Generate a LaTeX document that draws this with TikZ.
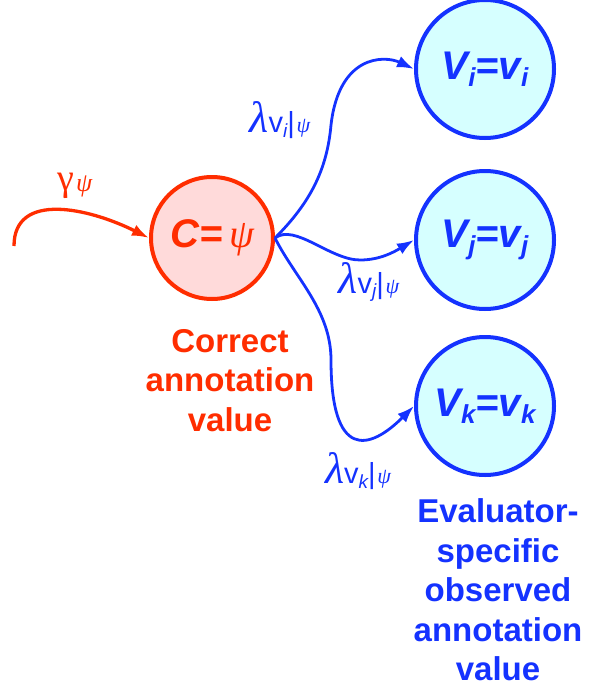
\documentclass[tikz,border=0pt]{standalone}
\usepackage{fontspec}
\setmainfont{Liberation Sans}
\newfontfamily\grk{Liberation Serif}
\usepackage{tikz}
\usetikzlibrary{arrows.meta, positioning}

\definecolor{corrred}{RGB}{255,45,0}
\definecolor{corrfill}{RGB}{255,218,218}
\definecolor{evalblue}{RGB}{20,50,255}
\definecolor{evalfill}{RGB}{214,255,255}

\newcommand{\lamlab}[1]{{\fontsize{44}{44}\selectfont\grk\itshape λ}{\fontsize{29}{29}\selectfont v\raisebox{-0.3ex}{\fontsize{19}{19}\selectfont\itshape #1}|}\,{\fontsize{22}{22}\selectfont\grk\itshape ψ}}
\newcommand{\sub}[1]{\raisebox{-0.35ex}{\fontsize{26}{26}\selectfont #1}}

\begin{document}
\begin{tikzpicture}[
  x=1pt, y=1pt,
  truth/.style={circle, draw=corrred, fill=corrfill, line width=4pt, minimum size=122pt, inner sep=0pt,
    text=corrred, font=\fontsize{40}{40}\selectfont\bfseries\itshape},
  obs/.style={circle, draw=evalblue, fill=evalfill, line width=4pt, minimum size=138pt, inner sep=0pt,
    text=evalblue, font=\fontsize{40}{40}\selectfont\bfseries\itshape},
  arrow/.style={-{Latex[length=17pt, width=12pt]}, line width=2.8pt, evalblue},
  inarrow/.style={-{Latex[length=17pt, width=12pt]}, line width=3.3pt, corrred},
  note/.style={align=center, inner sep=0pt, font=\fontsize{33}{39.5}\selectfont\bfseries}
]
\useasboundingbox (0,0) rectangle (591,-698);

\node[truth] (c) at (212,-238) {C=\,{\grk\mdseries ψ}};
\node[obs] (vi) at (485,-69) {V\sub{i}=v\sub{i}};
\node[obs] (vj) at (485,-240) {V\sub{j}=v\sub{j}};
\node[obs] (vk) at (485,-406) {V\sub{k}=v\sub{k}};

\node[note, text=corrred] (clab) at (230,-380.5) {Correct\\annotation\\value};
\node[note, text=evalblue] (vlab) at (498,-590) {Evaluator-\\specific\\observed\\annotation\\value};

\coordinate (src) at (14,-246);
\node[text=corrred, inner sep=0pt] (gam) at (75,-186)
  {{\fontsize{38}{38}\selectfont\grk γ}\,\raisebox{-0.25ex}{\fontsize{26}{26}\selectfont\grk\itshape ψ}};
\node[text=evalblue, inner sep=0pt] (li) at (280,-120) {\lamlab{i}};
\node[text=evalblue, inner sep=0pt] (lj) at (369,-282) {\lamlab{j}};
\node[text=evalblue, inner sep=0pt] (lk) at (358,-471) {\lamlab{k}};

\draw[inarrow] (src) .. controls +(0,55) and +(-60,30) .. (c.west);
\draw[arrow] (c.east) .. controls +(35,35) and +(-4,-45) .. ++(56,113)
  .. controls +(8,70) and +(-30,14) .. (vi.west);
\draw[arrow] (c.east) .. controls +(20,15) and +(-30,0) .. ++(85,-22)
  .. controls +(20,0) and +(-20,-12) .. (vj.west);
\draw[arrow] (c.east) .. controls +(20,-40) and +(0,50) .. ++(56,-122)
  .. controls +(0,-100) and +(-45,-45) .. (vk.west);

\end{tikzpicture}
\end{document}
